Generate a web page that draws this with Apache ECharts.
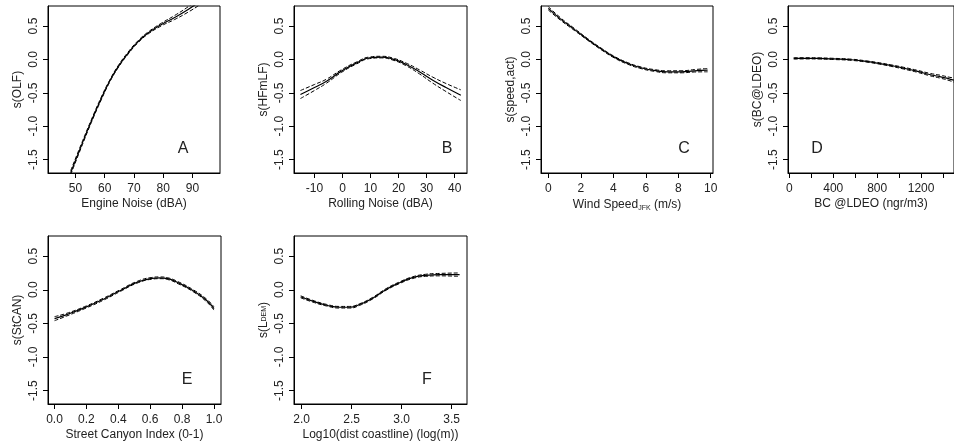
<!DOCTYPE html>
<html><head><meta charset="utf-8">
<script src="https://cdn.jsdelivr.net/npm/echarts@6/dist/echarts.min.js"></script>
<style>html,body{margin:0;padding:0;background:#fff}#c{width:954px;height:448px}</style>
</head><body><div id="c"></div>
<script>
// ---- Data ----
const yTicks = [-1.5, -1.0, -0.5, 0.0, 0.5];

const aX = [48.35, 52.0, 55.4, 58.8, 61.7, 64.5, 68.0, 71.4, 74.8, 79.4, 83.9, 88.5, 92];
const aFit = [-1.695, -1.29, -0.925, -0.585, -0.324, -0.114, 0.096, 0.266, 0.395, 0.524, 0.628, 0.748, 0.853];
const aUp = [-1.665, -1.265, -0.905, -0.565, -0.309, -0.099, 0.111, 0.281, 0.41, 0.544, 0.658, 0.788, 0.903];
const aLo = [-1.725, -1.315, -0.945, -0.605, -0.339, -0.129, 0.081, 0.251, 0.38, 0.504, 0.598, 0.708, 0.803];
const aTicks = [50, 60, 70, 80, 90];

const bX = [-15, -10, -5.7, -0.4, 4.9, 9.7, 13.8, 18, 22.7, 27.4, 32.2, 36.9, 42.2];
const bFit = [-0.525, -0.42, -0.325, -0.175, -0.055, 0.025, 0.035, 0.005, -0.075, -0.185, -0.31, -0.42, -0.535];
const bUp = [-0.465, -0.375, -0.295, -0.155, -0.04, 0.037, 0.047, 0.02, -0.055, -0.155, -0.265, -0.36, -0.455];
const bLo = [-0.585, -0.465, -0.355, -0.195, -0.07, 0.013, 0.023, -0.01, -0.095, -0.215, -0.355, -0.48, -0.615];
const bTicks = [-10, 0, 10, 20, 30, 40];

const cX = [0, 0.78, 1.60, 2.42, 3.24, 4.06, 4.89, 5.71, 6.53, 7.35, 8.17, 8.99, 9.81];
const cFit = [0.765, 0.60, 0.45, 0.30, 0.16, 0.035, -0.06, -0.125, -0.165, -0.185, -0.185, -0.17, -0.16];
const cUp = [0.79, 0.618, 0.465, 0.312, 0.172, 0.047, -0.048, -0.113, -0.152, -0.17, -0.17, -0.152, -0.135];
const cLo = [0.74, 0.582, 0.435, 0.288, 0.148, 0.023, -0.072, -0.137, -0.178, -0.2, -0.2, -0.188, -0.185];
const cTicks = [0, 2, 4, 6, 8, 10];

const dX = [40, 150, 270, 400, 566, 700, 803, 920, 1040, 1160, 1277, 1380, 1455, 1500];
const dFit = [0.015, 0.017, 0.015, 0.008, -0.005, -0.03, -0.055, -0.09, -0.13, -0.175, -0.225, -0.26, -0.29, -0.31];
const dUp = [0.025, 0.026, 0.024, 0.017, 0.004, -0.021, -0.045, -0.079, -0.117, -0.16, -0.207, -0.238, -0.265, -0.28];
const dLo = [0.005, 0.008, 0.006, -0.001, -0.014, -0.039, -0.065, -0.101, -0.143, -0.19, -0.243, -0.282, -0.315, -0.34];
const dTicks = [0, 200, 400, 600, 800, 1000, 1200, 1400];
const dLabels = [0, 400, 800, 1200];

const eX = [0, 0.077, 0.2, 0.307, 0.41, 0.516, 0.61, 0.66, 0.71, 0.766, 0.87, 0.954, 1.0];
const eFit = [-0.43, -0.37, -0.255, -0.14, -0.015, 0.11, 0.17, 0.178, 0.165, 0.115, -0.015, -0.16, -0.28];
const eUp = [-0.40, -0.35, -0.24, -0.125, -0.002, 0.123, 0.183, 0.191, 0.178, 0.13, 0.0, -0.14, -0.255];
const eLo = [-0.46, -0.39, -0.27, -0.155, -0.028, 0.097, 0.157, 0.165, 0.152, 0.10, -0.03, -0.18, -0.305];
const eTicks = [0, 0.2, 0.4, 0.6, 0.8, 1.0];

const fX = [1.99, 2.11, 2.25, 2.38, 2.48, 2.58, 2.71, 2.845, 2.98, 3.11, 3.24, 3.38, 3.58];
const fFit = [-0.105, -0.17, -0.23, -0.26, -0.26, -0.22, -0.125, 0.005, 0.105, 0.18, 0.215, 0.225, 0.225];
const fUp = [-0.09, -0.157, -0.218, -0.248, -0.248, -0.208, -0.113, 0.017, 0.117, 0.193, 0.23, 0.243, 0.25];
const fLo = [-0.12, -0.183, -0.242, -0.272, -0.272, -0.232, -0.137, -0.007, 0.093, 0.167, 0.2, 0.207, 0.2];
const fTicks = [2.0, 2.5, 3.0, 3.5];

// ---- Panels ----
const panels = [
  {x: aX, fit: aFit, up: aUp, lo: aLo, ticks: aTicks, labels: aTicks, min: 40.6, max: 99.4, dec: 0,
   xname: 'Engine Noise (dBA)', yname: 's(OLF)', letter: 'A',
   grid: {left: 48, top: 6, width: 172, height: 167}, lpos: [183, 149]},
  {x: bX, fit: bFit, up: bUp, lo: bLo, ticks: bTicks, labels: bTicks, min: -17.3, max: 44.4, dec: 0,
   xname: 'Rolling Noise (dBA)', yname: 's(HFmLF)', letter: 'B',
   grid: {left: 294, top: 6, width: 173, height: 167}, lpos: [447, 149]},
  {x: cX, fit: cFit, up: cUp, lo: cLo, ticks: cTicks, labels: cTicks, min: -0.45, max: 10.14, dec: 0,
   xname: 'Wind Speed{sub|JFK} (m/s)', yname: 's(speed,act)', letter: 'C',
   grid: {left: 541, top: 6, width: 172, height: 167}, lpos: [684, 149]},
  {x: dX, fit: dFit, up: dUp, lo: dLo, ticks: dTicks, labels: dLabels, min: -12, max: 1500, dec: 0,
   xname: 'BC @LDEO (ngr/m3)', yname: 's(BC@LDEO)', letter: 'D',
   grid: {left: 788, top: 6, width: 172, height: 167}, lpos: [817, 149]},
  {x: eX, fit: eFit, up: eUp, lo: eLo, ticks: eTicks, labels: eTicks, min: -0.041, max: 1.044, dec: 1,
   xname: 'Street Canyon Index (0-1)', yname: 's(StCAN)', letter: 'E',
   grid: {left: 48, top: 236, width: 173, height: 168}, lpos: [187, 380]},
  {x: fX, fit: fFit, up: fUp, lo: fLo, ticks: fTicks, labels: fTicks, min: 1.923, max: 3.654, dec: 1,
   xname: 'Log10(dist coastline) (log(m))', yname: 's(L{sub|DEM})', letter: 'F',
   grid: {left: 294, top: 236, width: 173, height: 168}, lpos: [427, 380]}
];

const FONT = 'Liberation Sans, Arial, sans-serif';
const TXT = '#222';
const zip = (xs, ys) => xs.map((v, i) => [v, ys[i]]);

const grids = [], xAxes = [], yAxes = [], series = [], graphics = [];
panels.forEach((p, i) => {
  grids.push(Object.assign({show: true, borderColor: '#000', borderWidth: 1, backgroundColor: 'transparent'}, p.grid));
  xAxes.push({
    gridIndex: i, type: 'value', min: p.min, max: p.max,
    axisLine: {show: true, onZero: false, lineStyle: {color: '#000', width: 1}},
    axisTick: {show: true, length: 5, customValues: p.ticks, lineStyle: {color: '#000'}},
    axisLabel: {customValues: p.labels, formatter: v => Number(v).toFixed(p.dec), fontSize: 12, fontFamily: FONT, color: TXT, margin: 10},
    splitLine: {show: false},
    name: p.xname, nameLocation: 'middle', nameGap: 25,
    nameTextStyle: {fontSize: 12, fontFamily: FONT, color: TXT,
      rich: {sub: {fontSize: 7, fontFamily: FONT, color: TXT, padding: [7, 0, 0, 0]}}}
  });
  yAxes.push({
    gridIndex: i, type: 'value', min: -1.7, max: 0.8,
    axisLine: {show: true, onZero: false, lineStyle: {color: '#000', width: 1}},
    axisTick: {show: true, length: 5, customValues: yTicks, lineStyle: {color: '#000'}},
    axisLabel: {customValues: yTicks, rotate: 90, formatter: v => Number(v).toFixed(1), fontSize: 12, fontFamily: FONT, color: TXT, margin: 8},
    splitLine: {show: false},
    name: p.yname, nameLocation: 'middle', nameGap: 24, nameRotate: 90,
    nameTextStyle: {fontSize: 12, fontFamily: FONT, color: TXT,
      rich: {sub: {fontSize: 7, fontFamily: FONT, color: TXT, padding: [0, 0, 0, 0]}}}
  });
  const base = {type: 'line', xAxisIndex: i, yAxisIndex: i, showSymbol: false, symbol: 'none', smooth: 0.5, clip: true, silent: true, animation: false};
  series.push(Object.assign({}, base, {data: zip(p.x, p.up), lineStyle: {color: '#000', width: 1, type: [4, 2]}}));
  series.push(Object.assign({}, base, {data: zip(p.x, p.lo), lineStyle: {color: '#000', width: 1, type: [4, 2]}}));
  series.push(Object.assign({}, base, {data: zip(p.x, p.fit), lineStyle: {color: '#000', width: 1.2}}));
  graphics.push({type: 'text', x: p.lpos[0], y: p.lpos[1], silent: true,
    style: {text: p.letter, fontSize: 16, fontFamily: FONT, fill: TXT, align: 'center', verticalAlign: 'middle'}});
});

const chart = echarts.init(document.getElementById('c'), null, {renderer: 'canvas'});
chart.setOption({
  animation: false,
  backgroundColor: '#fff',
  grid: grids, xAxis: xAxes, yAxis: yAxes, series: series, graphic: graphics
});
</script></body></html>
